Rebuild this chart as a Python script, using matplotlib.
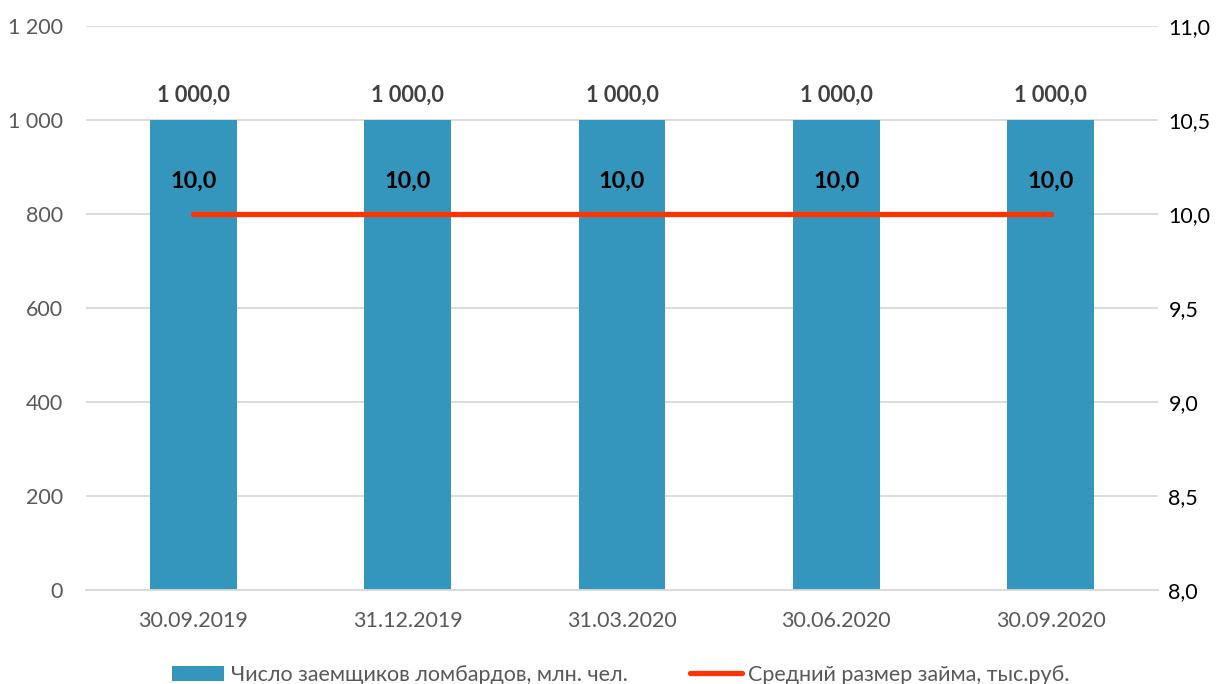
import matplotlib
matplotlib.use("Agg")
import matplotlib.pyplot as plt
from matplotlib.patches import Patch
from matplotlib.lines import Line2D

categories = ["30.09.2019", "31.12.2019", "31.03.2020", "30.06.2020", "30.09.2020"]
borrowers = [1000.0, 1000.0, 1000.0, 1000.0, 1000.0]
avg_loan = [10.0, 10.0, 10.0, 10.0, 10.0]
left_ticks = [0, 200, 400, 600, 800, 1000, 1200]
right_ticks = [8.0, 8.5, 9.0, 9.5, 10.0, 10.5, 11.0]
bar_name = "Число заемщиков ломбардов, млн. чел."
line_name = "Средний размер займа, тыс.руб."

FAM = ["Lato", "Open Sans", "DejaVu Sans"]
plt.rcParams["font.family"] = FAM

def fmt(v, dec=1):
    s = f"{v:,.{dec}f}"
    return s.replace(",", " ").replace(".", ",")

W, H = 1227, 684
fig = plt.figure(figsize=(W / 100, H / 100), dpi=100)
ax = fig.add_axes([86 / W, 94 / H, (1158 - 86) / W, (590 - 26) / H])
ax2 = ax.twinx()

x = list(range(len(categories)))
bar_color = "#3596BD"
line_color = "#FF3300"
FS = 15.5

ax.set_axisbelow(True)
ax.bar(x, borrowers, width=0.405, color=bar_color, zorder=2)
ax.set_ylim(0, 1200)
ax.set_xlim(-0.5, len(categories) - 0.5)
ax.set_yticks(left_ticks)
ax.set_yticklabels([fmt(v, 0) for v in left_ticks])
ax.grid(axis="y", color="#D9D9D9", linewidth=1.3, zorder=0)
ax.set_xticks(x)
ax.set_xticklabels(categories)
ax.tick_params(axis="both", length=0, labelsize=FS, colors="#595959")
ax.tick_params(axis="y", pad=16.5)
ax.tick_params(axis="x", pad=15)
for s in ["top", "left", "right"]:
    ax.spines[s].set_visible(False)
ax.spines["bottom"].set_color("#D9D9D9")
ax.spines["bottom"].set_linewidth(1.3)

for xi, v in zip(x, borrowers):
    ax.annotate(fmt(v), (xi, v), xytext=(0, 25), textcoords="offset pixels",
                ha="center", va="center", fontsize=15.7, fontweight="bold",
                color="#404040")

ax2.plot(x, avg_loan, color=line_color, linewidth=3.8, solid_capstyle="round", zorder=3)
ax2.set_ylim(8.0, 11.0)
ax2.set_yticks(right_ticks)
ax2.set_yticklabels([fmt(v) for v in right_ticks])
ax2.tick_params(axis="y", length=0, labelsize=FS, colors="#000000", pad=7.5)
for s in ["top", "left", "right", "bottom"]:
    ax2.spines[s].set_visible(False)
for xi, v in zip(x, avg_loan):
    ax2.annotate(fmt(v), (xi, v), xytext=(0, 33), textcoords="offset pixels",
                 ha="center", va="center", fontsize=16.8, fontweight="bold",
                 color="#000000")

handles = [Patch(facecolor=bar_color, edgecolor="none"),
           Line2D([0], [0], color=line_color, linewidth=3.8, solid_capstyle="round")]
fig.legend(handles, [bar_name, line_name], loc="center",
           bbox_to_anchor=(621 / W, 1 - 675 / H), ncol=2, frameon=False,
           fontsize=FS, handlelength=2.4, handleheight=0.7, handletextpad=0.3,
           columnspacing=2.9, labelcolor="#595959")

fig.savefig("out.png", dpi=100)
